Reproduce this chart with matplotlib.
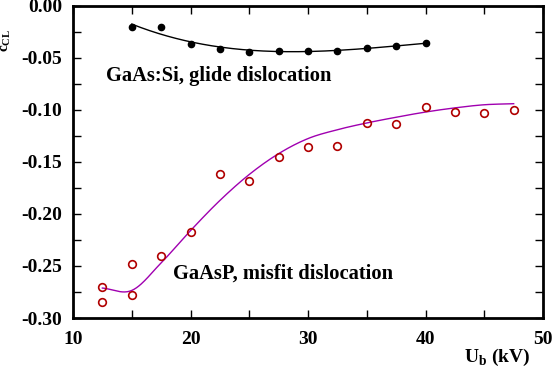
import numpy as np
import matplotlib
matplotlib.use('Agg')
import matplotlib.pyplot as plt
from matplotlib.ticker import MultipleLocator

# GaAs:Si, glide dislocation
glide_u = [15, 17.5, 20, 22.5, 25, 27.5, 30, 32.5, 35, 37.5, 40]
glide_c = [-0.0205, -0.0205, -0.0369, -0.041, -0.044, -0.043, -0.043, -0.043, -0.040, -0.039, -0.036]

# GaAsP, misfit dislocation
misfit_u = [12.5, 12.5, 15, 15, 17.5, 20, 22.5, 25, 27.5, 30, 32.5, 35, 37.5, 40, 42.5, 45, 47.5]
misfit_c = [-0.2705, -0.285, -0.248, -0.2776, -0.2407, -0.2176, -0.1615, -0.1686, -0.1455,
            -0.1353, -0.1343, -0.1122, -0.1132, -0.0971, -0.1022, -0.1032, -0.1003]

# fitted curve for GaAsP
fit_u = [12.5, 15, 17.5, 20, 22.5, 25, 27.5, 30, 32.5, 35, 37.5, 40, 42.5, 45, 47.5]
fit_c = [-0.2712, -0.2735, -0.247, -0.216, -0.187, -0.162, -0.142, -0.1275, -0.119,
         -0.1125, -0.107, -0.102, -0.098, -0.095, -0.094]


def smooth(xk, yk, n=25):
    # Catmull-Rom curve through the given points
    xk = np.asarray(xk, float)
    yk = np.asarray(yk, float)
    px = np.concatenate([[2 * xk[0] - xk[1]], xk, [2 * xk[-1] - xk[-2]]])
    py = np.concatenate([[2 * yk[0] - yk[1]], yk, [2 * yk[-1] - yk[-2]]])
    t = np.linspace(0, 1, n, endpoint=False)[:, None]
    outx, outy = [], []
    for i in range(1, len(px) - 2):
        for arr, out in ((px, outx), (py, outy)):
            p0, p1, p2, p3 = arr[i - 1:i + 3]
            seg = 0.5 * ((2 * p1) + (-p0 + p2) * t + (2 * p0 - 5 * p1 + 4 * p2 - p3) * t ** 2
                         + (-p0 + 3 * p1 - 3 * p2 + p3) * t ** 3)
            out.append(seg.ravel())
    outx.append([xk[-1]])
    outy.append([yk[-1]])
    return np.concatenate(outx), np.concatenate(outy)


plt.rcParams['font.family'] = ['Liberation Serif', 'DejaVu Serif']
plt.rcParams['font.weight'] = 'bold'
plt.rcParams['mathtext.fontset'] = 'custom'
plt.rcParams['mathtext.rm'] = 'Liberation Serif:bold'

fig = plt.figure(figsize=(5.53, 3.70), dpi=100)
ax = fig.add_axes([0.132, 0.1405, 0.850, 0.8435])

# black: cubic fit of the glide data
p1 = np.polyfit(glide_u, glide_c, 3)
xs1 = np.linspace(min(glide_u), max(glide_u), 200)
ax.plot(xs1, np.polyval(p1, xs1), color='black', lw=1)
ax.plot(glide_u, glide_c, 'o', color='black', ms=4.5)

# purple: smooth curve through the read-off fit values
xs2, ys2 = smooth(fit_u, fit_c)
ax.plot(xs2, ys2, color='#a000b0', lw=1)
ax.plot(misfit_u, misfit_c, 'o', mfc='none', mec='#b00000', mew=1.2, ms=5.5)

ax.set_xlim(10, 50)
ax.set_ylim(-0.30, 0.0)
ax.xaxis.set_minor_locator(MultipleLocator(5))
ax.yaxis.set_minor_locator(MultipleLocator(0.025))
ax.tick_params(which='both', direction='in', top=True, right=True, labelsize=14, width=1, length=6)
ax.tick_params(axis='x', pad=9)
ax.tick_params(axis='y', pad=8)
ax.set_xticks([10, 20, 30, 40, 50])
ax.set_xticklabels(['10', '20', '30', '40', '50'])
ax.set_yticks([0, -0.05, -0.10, -0.15, -0.20, -0.25, -0.30])
ax.set_yticklabels(['0.00', '-0.05', '-0.10', '-0.15', '-0.20', '-0.25', '-0.30'])
for s in ax.spines.values():
    s.set_linewidth(2)

ax.text(12.8, -0.067, 'GaAs:Si, glide dislocation', fontsize=14.8, ha='left', va='center')
ax.text(18.5, -0.257, 'GaAsP, misfit dislocation', fontsize=14.8, ha='left', va='center')

fig.text(0.012, 0.892, r'c$_{\rm CL}$', rotation=90, fontsize=11, ha='center', va='center')
fig.text(0.900, 0.034, r'U$_{\rm b}$ (kV)', fontsize=14, ha='center', va='center')

plt.savefig('out.png', dpi=100)
